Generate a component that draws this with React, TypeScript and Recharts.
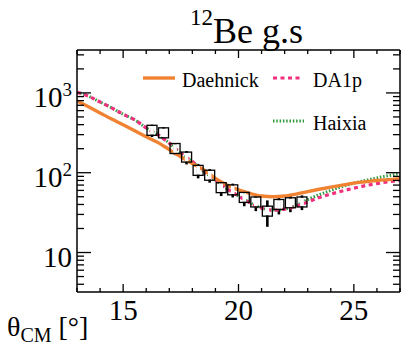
import { ComposedChart, Line, Scatter, ErrorBar, XAxis, YAxis } from "recharts";

// calculation grid (deg, CM)
const ANGLES = [
  13, 13.5, 14, 14.5, 15, 15.5, 16, 16.5, 17, 17.5, 18, 18.5, 19, 19.5, 20,
  20.5, 21, 21.5, 22, 22.5, 23, 23.5, 24, 24.5, 25, 25.5, 26, 26.5, 27,
];
const DAEHNICK = [
  794, 670, 562, 470, 398, 335, 282, 240, 195, 158, 130, 108, 85, 70, 61, 55,
  51, 50, 51, 54, 58, 62, 66, 70, 74, 77, 80, 82, 84,
];
const DA1P = [
  1020, 910, 770, 650, 540, 460, 365, 300, 235, 175, 138, 104, 81, 63, 51, 42,
  36, 34, 35, 38, 43, 49, 54, 59, 64, 69, 73, 77, 80,
];
const HAIXIA = [
  1020, 910, 770, 650, 540, 460, 365, 300, 235, 175, 138, 104, 81, 63, 51, 42,
  36, 34, 35, 39, 46, 53, 60, 67, 74, 80, 86, 92, 97,
];

// measured cross sections
const EXP_ANGLE = [
  16.25, 16.75, 17.25, 17.75, 18.25, 18.75, 19.25, 19.75, 20.25, 20.75, 21.25,
  21.75, 22.25, 22.75,
];
const EXP_XS = [340, 316, 201, 157, 107, 93, 65, 61, 49, 43, 33, 40, 42, 43];
const EXP_ERR = [60, 55, 35, 30, 22, 18, 14, 12, 11, 10, 12, 10, 10, 9];

const X_TICKS = [13, 14, 15, 16, 17, 18, 19, 20, 21, 22, 23, 24, 25, 26, 27];
const X_MAJOR = [15, 20, 25];
const Y_TICKS = [
  4, 5, 6, 7, 8, 9, 10, 20, 30, 40, 50, 60, 70, 80, 90, 100, 200, 300, 400, 500,
  600, 700, 800, 900, 1000, 2000, 3000,
];
const Y_MAJOR = [10, 100, 1000];

const curves = ANGLES.map((angle, i) => ({
  angle,
  daehnick: DAEHNICK[i],
  da1p: DA1P[i],
  haixia: HAIXIA[i],
}));
const points = EXP_ANGLE.map((angle, i) => ({
  angle,
  xs: EXP_XS[i],
  err: EXP_ERR[i],
}));

const SERIF = "'Liberation Serif', 'Times New Roman', serif";
const ORANGE = "#F08232";
const PINK = "#F0307E";
const GREEN = "#2E9A3C";

const BottomTick = ({ x, y, payload }: any) => {
  const major = X_MAJOR.includes(payload.value);
  return (
    <g>
      <line x1={x} x2={x} y1={y} y2={y - (major ? 8 : 4)} stroke="#000" strokeWidth={1.3} />
      {major && (
        <text x={x} y={y + 28} textAnchor="middle" style={{ fontFamily: SERIF }} fontSize={29} fill="#000">
          {payload.value}
        </text>
      )}
    </g>
  );
};

const TopTick = ({ x, y, payload }: any) => {
  const major = X_MAJOR.includes(payload.value);
  return <line x1={x} x2={x} y1={y} y2={y + (major ? 8 : 4)} stroke="#000" strokeWidth={1.3} />;
};

const LeftTick = ({ x, y, payload }: any) => {
  const major = Y_MAJOR.includes(payload.value);
  const exp = Math.round(Math.log10(payload.value));
  return (
    <g>
      <line x1={x} x2={x + (major ? 14 : 7)} y1={y} y2={y} stroke="#000" strokeWidth={1.3} />
      {major && (
        <text x={x - 5} y={y + 14} textAnchor="end" style={{ fontFamily: SERIF }} fontSize={29} fill="#000">
          10
          {exp > 1 && (
            <tspan fontSize={19} dy={-11}>
              {exp}
            </tspan>
          )}
        </text>
      )}
    </g>
  );
};

const RightTick = ({ x, y, payload }: any) => {
  const major = Y_MAJOR.includes(payload.value);
  return <line x1={x} x2={x - (major ? 14 : 7)} y1={y} y2={y} stroke="#000" strokeWidth={1.3} />;
};

// open square; the white strip hides the error bar inside the marker
const OpenBox = ({ cx, cy }: any) => (
  <g>
    <rect x={cx - 1.8} y={cy - 4.3} width={3.6} height={8.6} fill="#fff" />
    <rect x={cx - 5} y={cy - 5} width={10} height={10} fill="none" stroke="#000" strokeWidth={1.3} />
  </g>
);

const axisLine = { stroke: "#000", strokeWidth: 1.5 };
const serifText = { fontFamily: SERIF, fill: "#000" };

export default function App() {
  return (
    <div style={{ position: "absolute", left: 0, top: 0, width: 401, height: 345, background: "#fff" }}>
      <ComposedChart width={401} height={345} margin={{ top: 49, right: 0, bottom: 52, left: 76 }}>
        <XAxis
          dataKey="angle"
          type="number"
          domain={[13, 27]}
          ticks={X_TICKS}
          interval={0}
          allowDataOverflow
          height={1}
          tickSize={0}
          tickMargin={0}
          axisLine={axisLine}
          tick={<BottomTick />}
        />
        <XAxis
          xAxisId="top"
          orientation="top"
          dataKey="angle"
          type="number"
          domain={[13, 27]}
          ticks={X_TICKS}
          interval={0}
          allowDataOverflow
          height={1}
          tickSize={0}
          tickMargin={0}
          axisLine={axisLine}
          tick={<TopTick />}
        />
        <YAxis
          type="number"
          scale="log"
          domain={[3.2, 3450]}
          ticks={Y_TICKS}
          interval={0}
          allowDataOverflow
          width={1}
          tickSize={0}
          tickMargin={0}
          axisLine={axisLine}
          tick={<LeftTick />}
        />
        <YAxis
          yAxisId="right"
          orientation="right"
          type="number"
          scale="log"
          domain={[3.2, 3450]}
          ticks={Y_TICKS}
          interval={0}
          allowDataOverflow
          width={1}
          tickSize={0}
          tickMargin={0}
          axisLine={axisLine}
          tick={<RightTick />}
        />
        <Scatter data={points} dataKey="xs" shape={<OpenBox />} isAnimationActive={false}>
          <ErrorBar dataKey="err" direction="y" width={0} stroke="#000" strokeWidth={2.6} />
        </Scatter>
        <Line
          data={curves}
          dataKey="haixia"
          type="monotone"
          stroke={GREEN}
          strokeWidth={3}
          strokeDasharray="1.5 1.8"
          dot={false}
          isAnimationActive={false}
        />
        <Line
          data={curves}
          dataKey="da1p"
          type="monotone"
          stroke={PINK}
          strokeWidth={3.2}
          strokeDasharray="4 3.5"
          dot={false}
          isAnimationActive={false}
        />
        <Line
          data={curves}
          dataKey="daehnick"
          type="monotone"
          stroke={ORANGE}
          strokeWidth={3.4}
          dot={false}
          isAnimationActive={false}
        />
      </ComposedChart>
      <svg
        width={401}
        height={345}
        style={{ position: "absolute", left: 0, top: 0, pointerEvents: "none" }}
      >
        <text x={190} y={43} style={serifText}>
          <tspan fontSize={23} dy={-18}>12</tspan>
          <tspan fontSize={36} dy={18}>Be g.s</tspan>
        </text>
        <line x1={143} x2={175} y1={78} y2={78} stroke={ORANGE} strokeWidth={3.4} />
        <text x={182} y={87} style={serifText} fontSize={20}>Daehnick</text>
        <line x1={273} x2={303} y1={78} y2={78} stroke={PINK} strokeWidth={3.2} strokeDasharray="4 3.5" />
        <text x={313} y={87} style={serifText} fontSize={20}>DA1p</text>
        <line x1={273} x2={304} y1={121} y2={121} stroke={GREEN} strokeWidth={3} strokeDasharray="1.5 1.8" />
        <text x={313} y={130} style={serifText} fontSize={20}>Haixia</text>
        <text x={7} y={336} style={serifText} fontSize={28}>
          θ<tspan fontSize={20} dy={6}>CM</tspan>
          <tspan fontSize={28} dy={-6}> [°]</tspan>
        </text>
      </svg>
    </div>
  );
}
